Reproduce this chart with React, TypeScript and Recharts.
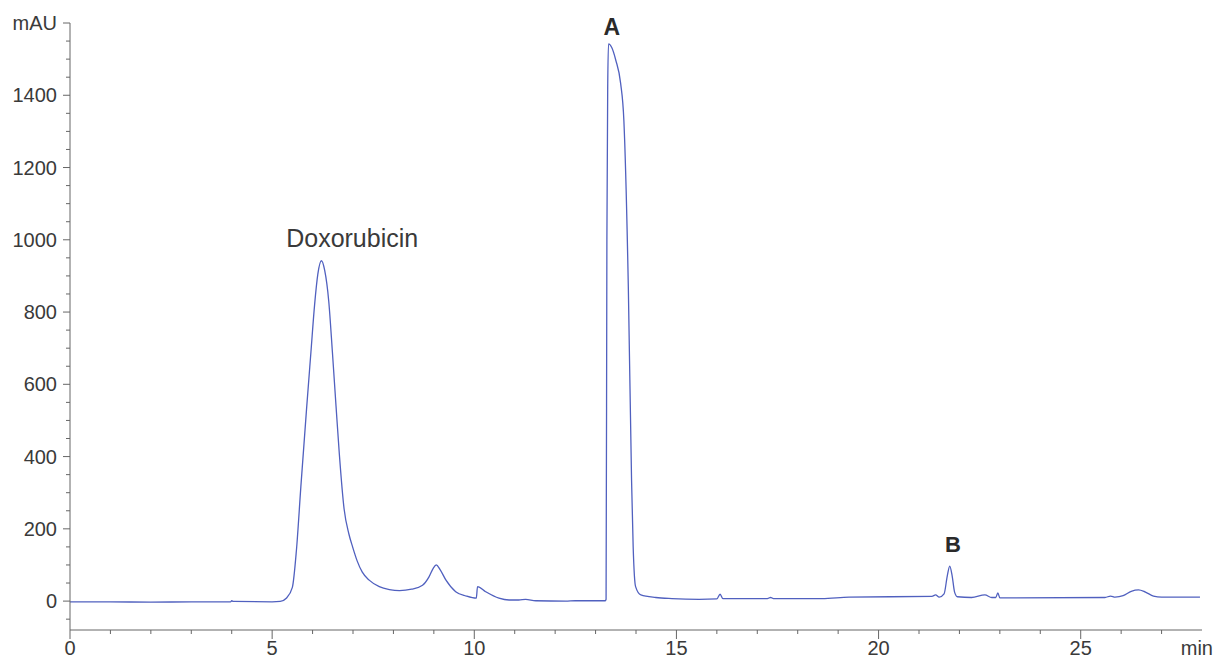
import React from 'react';
import { LineChart, Line, XAxis, YAxis, ReferenceDot } from 'recharts';

// retention time (min) and absorbance (mAU)
const times = [
  0, 1, 2, 3, 3.97, 4.0, 4.04, 5.0, 5.2, 5.35, 5.5, 5.6, 5.71, 5.85, 5.96, 6.05, 6.13, 6.22, 6.3, 6.4,
  6.49, 6.58, 6.66, 6.78, 6.9, 6.99, 7.1, 7.23, 7.4, 7.65, 7.9, 8.15, 8.45, 8.72, 8.88, 8.98, 9.06, 9.15,
  9.3, 9.54, 9.8, 10.05, 10.08, 10.28, 10.61, 10.86, 11.1, 11.27, 11.52, 12.26, 12.5, 13.24, 13.26, 13.28,
  13.3, 13.32, 13.4, 13.5, 13.62, 13.7, 13.81, 13.89, 13.93, 13.99, 14.12, 14.49, 14.89, 15.56, 16.0,
  16.08, 16.15, 17.25, 17.33, 17.4, 18.6, 19.27, 21.32, 21.41, 21.5, 21.62, 21.7, 21.76, 21.82, 21.88,
  21.95, 22.3, 22.63, 22.8, 22.9, 22.95, 23.0, 25.6, 25.74, 25.85, 26.05, 26.25, 26.43, 26.6, 26.8, 27.0,
  27.95,
];
const absorbance = [
  -2, -2, -3, -2, -2, 1, -1, -2, -1, 8, 38, 140, 316, 530, 690, 820, 905, 942, 915, 830,
  690, 540, 410, 255, 185, 150, 112, 80, 58, 40, 32, 29, 33, 44, 67, 90, 100, 88,
  58, 26, 14, 8, 40, 26, 8, 3, 3, 5, 1, 0, 1, 1, 5, 1000,
  1420, 1542, 1532, 1497, 1433, 1330, 870, 335, 150, 40, 17, 10, 7, 5, 6,
  19, 7, 7, 10, 7, 7, 11, 13, 17, 11, 20, 70, 97, 70, 25,
  12, 10, 17, 10, 10, 23, 9, 10, 14, 11, 15, 27, 31, 25, 14, 11,
  11,
];

const xTicks = [0, 1, 2, 3, 4, 5, 6, 7, 8, 9, 10, 11, 12, 13, 14, 15, 16, 17, 18, 19, 20, 21, 22, 23, 24, 25, 26, 27, 28];
const xTickLabels: Record<number, string> = { 0: '0', 5: '5', 10: '10', 15: '15', 20: '20', 25: '25', 28: 'min' };

const yTicks = [
  -50, 0, 50, 100, 150, 200, 250, 300, 350, 400, 450, 500, 550, 600, 650, 700, 750, 800, 850, 900, 950,
  1000, 1050, 1100, 1150, 1200, 1250, 1300, 1350, 1400, 1450, 1500, 1550, 1600,
];
const yTickLabels: Record<number, string> = {
  0: '0', 200: '200', 400: '400', 600: '600', 800: '800', 1000: '1000', 1200: '1200', 1400: '1400', 1600: 'mAU',
};

const peakNames = ['Doxorubicin', 'A', 'B'];
const peakLabelTimes = [6.98, 13.4, 21.84];
const peakLabelHeights = [980, 1567, 135];
const peakLabelBold = [false, true, true];
const peakLabelSizes = [25, 23, 22];

const data = times.map((t, i) => ({ t, v: absorbance[i] }));

const AXIS = '#666';
const TEXT = '#3a3a3a';
const FONT = '"Liberation Sans", Arial, sans-serif';

const XTick = (props: any) => {
  const { x, y, payload } = props;
  const label = xTickLabels[payload.value];
  const isEnd = payload.value === 28;
  return (
    <g>
      {!isEnd && (
        <line x1={x} x2={x} y1={y} y2={y + (label ? 9 : 4)} stroke={AXIS} strokeWidth={1} />
      )}
      {label && (
        <text
          x={isEnd ? x + 11 : x}
          y={y + 25}
          textAnchor={isEnd ? 'end' : 'middle'}
          fontSize={20}
          fontFamily={FONT}
          fill={TEXT}
        >
          {label}
        </text>
      )}
    </g>
  );
};

const YTick = (props: any) => {
  const { x, y, payload } = props;
  const label = yTickLabels[payload.value];
  return (
    <g>
      <line x1={x} x2={x - (label ? 7 : 4)} y1={y} y2={y} stroke={AXIS} strokeWidth={1} />
      {label && (
        <text x={x - 13} y={y + 7} textAnchor="end" fontSize={20} fontFamily={FONT} fill={TEXT}>
          {label}
        </text>
      )}
    </g>
  );
};

export default function App() {
  return (
    <div style={{ position: 'absolute', left: 0, top: 0, width: 1216, height: 660, background: '#fff' }}>
      <LineChart width={1216} height={660} data={data} margin={{ top: 23, right: 14, bottom: 0, left: 10 }}>
        <XAxis
          dataKey="t"
          type="number"
          domain={[0, 28]}
          ticks={xTicks}
          interval={0}
          tickSize={0}
          tickMargin={0}
          tickLine={false}
          axisLine={{ stroke: AXIS, strokeWidth: 1 }}
          tick={<XTick />}
          height={30}
          allowDataOverflow
        />
        <YAxis
          type="number"
          domain={[-80, 1600]}
          ticks={yTicks}
          interval={0}
          tickSize={0}
          tickMargin={0}
          tickLine={false}
          axisLine={{ stroke: AXIS, strokeWidth: 1 }}
          tick={<YTick />}
          width={60}
          allowDataOverflow
        />
        <Line
          type="monotone"
          dataKey="v"
          stroke="#5060bf"
          strokeWidth={1.3}
          dot={false}
          activeDot={false}
          isAnimationActive={false}
        />
        {peakNames.map((name, i) => (
          <ReferenceDot
            key={name}
            x={peakLabelTimes[i]}
            y={peakLabelHeights[i]}
            r={0}
            fill="none"
            stroke="none"
            label={(p: any) => (
              <text
                x={p.viewBox.x}
                y={p.viewBox.y}
                textAnchor="middle"
                fontSize={peakLabelSizes[i]}
                fontWeight={peakLabelBold[i] ? 700 : 400}
                fontFamily={FONT}
                fill={peakLabelBold[i] ? '#2a2a2a' : TEXT}
              >
                {name}
              </text>
            )}
          />
        ))}
      </LineChart>
    </div>
  );
}
